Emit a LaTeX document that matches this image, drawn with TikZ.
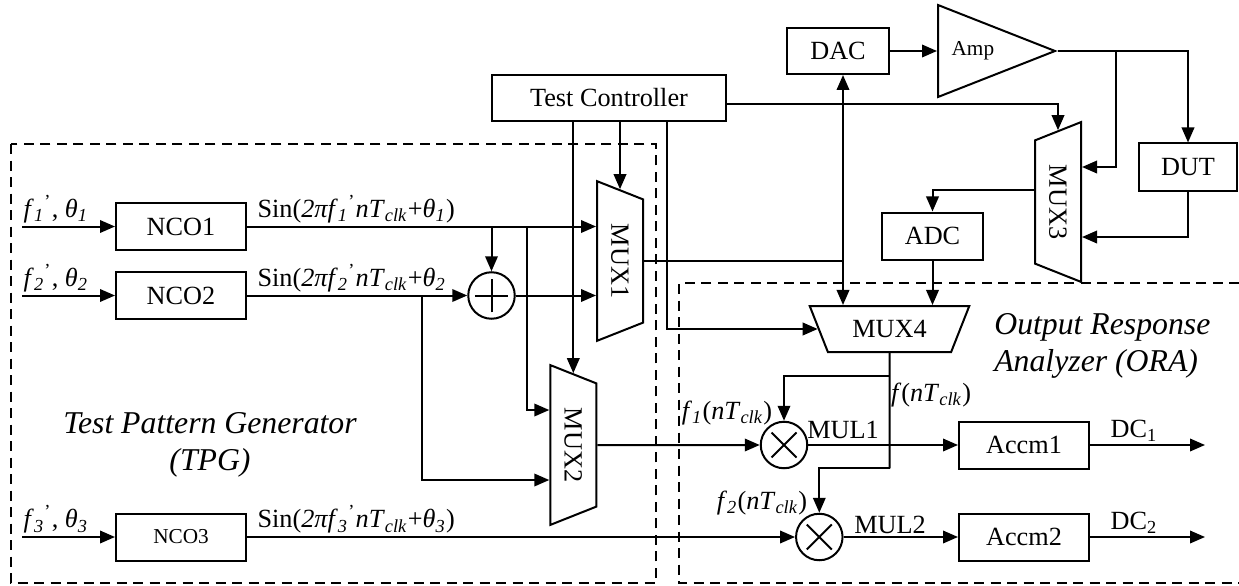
\documentclass[tikz,border=0pt]{standalone}
\usepackage{fontspec}
\setmainfont{Liberation Serif}
\usetikzlibrary{shapes.geometric,arrows.meta,calc}
\newcommand{\lo}[1]{\textsubscript{\textit{#1}}}
\newcommand{\losup}[2]{\textsubscript{\textit{#1}}\textsuperscript{#2}}

\begin{document}
\begin{tikzpicture}[x=0.4pt,y=-0.4pt,line width=0.8pt,
  font=\fontsize{10.5}{12.6}\selectfont,
  >={Triangle[length=6pt,width=5pt]},
  blk/.style={draw,minimum width=52pt,minimum height=18.8pt,inner sep=1pt},
  mux/.style={draw,trapezium,trapezium stretches=true,
    trapezium left angle=58,trapezium right angle=58,
    minimum width=64pt,minimum height=18.4pt,inner sep=0pt},
  sum/.style={draw,circle,minimum size=18.6pt,inner sep=0pt},
  addop/.style={sum,path picture={
    \draw ([xshift=-6.7pt]path picture bounding box.center) -- ([xshift=6.7pt]path picture bounding box.center)
          ([yshift=-6.7pt]path picture bounding box.center) -- ([yshift=6.7pt]path picture bounding box.center);}},
  mulop/.style={sum,path picture={
    \draw ([shift={(-5pt,-5pt)}]path picture bounding box.center) -- ([shift={(5pt,5pt)}]path picture bounding box.center)
          ([shift={(-5pt,5pt)}]path picture bounding box.center) -- ([shift={(5pt,-5pt)}]path picture bounding box.center);}},
  zone/.style={dash pattern=on 4pt off 2.6pt},
  sig/.style={inner sep=1pt},
  area/.style={font=\fontsize{12.7}{14.6}\selectfont\itshape}]
  \useasboundingbox (0,0) rectangle (1239,586);

  % --- Zones ---
  \draw[zone] (11,144) rectangle (656,583);
  \draw[zone] (1239,283) -- (679,283) -- (679,583) -- (1239,583);
  \node[area,align=center] (tpg) at (210,445) {Test Pattern Generator\\(TPG)};
  \node[area,align=left,anchor=west] (ora) at (985,346) {Output Response\\Analyzer (ORA)};

  % --- Blocks ---
  \node[blk] (nco1) at (181,226.5) {NCO1};
  \node[blk] (nco2) at (181,295.5) {NCO2};
  \node[blk,font=\fontsize{8.5}{10}\selectfont] (nco3) at (181,537) {NCO3};
  \node[blk,minimum width=93.6pt,minimum height=18.4pt] (tc) at (609,98) {Test Controller};
  \node[blk,minimum width=40.8pt,minimum height=18.4pt] (dac) at (838,51) {DAC};
  \node[blk,minimum width=40.4pt] (adc) at (932.5,236) {ADC};
  \node[blk,minimum width=39.2pt] (dut) at (1188,167) {DUT};
  \node[blk] (accm1) at (1024,445) {Accm1};
  \node[blk] (accm2) at (1024,537) {Accm2};
  \node[draw,isosceles triangle,isosceles triangle stretches,minimum width=36.8pt,
    minimum height=46.8pt,inner sep=0pt,anchor=west,font=\fontsize{8.5}{10}\selectfont] (amp) at (937,51) {Amp};

  % --- Multiplexers ---
  \node[mux,rotate=-90] (mux1) at (620,261) {MUX1};
  \node[mux,rotate=-90] (mux2) at (573.3,445) {MUX2};
  \node[mux,rotate=-90,shape border rotate=180] (mux3) at (1058,202) {MUX3};
  \node[mux,shape border rotate=180] (mux4) at (889.5,329) {MUX4};

  % --- Operators ---
  \node[addop] (add) at (491.5,295.5) {};
  \node[mulop] (mul1) at (784,445) {};
  \node[mulop] (mul2) at (819.3,537) {};
  \node (mul1l) at (843,430) {MUL1};
  \node (mul2l) at (890,525) {MUL2};

  % --- Signal labels ---
  \foreach \i/\y in {1/226.5,2/295.5,3/537} {
    \coordinate (in\i) at (22,\y);
    \node[sig,anchor=south] (f\i) at (56,\y) {\textit{f}\losup{\i}{'}, \textit{θ}\lo{\i}};
  }
  \node[sig,anchor=south west] (s1) at (254,226.5) {Sin(\textit{2πf}\losup{1}{'}\textit{nT}\lo{clk}+\textit{θ}\lo{1})};
  \node[sig,anchor=south west] (s2) at (254,295.5) {Sin(\textit{2πf}\losup{2}{'}\textit{nT}\lo{clk}+\textit{θ}\lo{2}};
  \node[sig,anchor=south west] (s3) at (254,537) {Sin(\textit{2πf}\losup{3}{'}\textit{nT}\lo{clk}+\textit{θ}\lo{3})};
  \node (fn) at (931,395) {\textit{f}(\textit{nT}\lo{clk})};
  \node (fn1) at (727,413) {\textit{f}\lo{1}(\textit{nT}\lo{clk})};
  \node (fn2) at (762,503) {\textit{f}\lo{2}(\textit{nT}\lo{clk})};
  \node[sig,anchor=south] (dc1) at (1134,445) {DC\textsubscript{1}};
  \node[sig,anchor=south] (dc2) at (1134,537) {DC\textsubscript{2}};

  % --- Pattern generator wiring ---
  \foreach \i in {1,2,3} \draw[->] (in\i) -- (nco\i.west);
  \coordinate (j1) at (527,226.5);
  \coordinate (j2) at (421.7,295.5);
  \draw[->] (nco1.east) -- (mux1.south |- nco1.east);
  \draw[->] (add.north |- nco1.east) -- (add.north);
  \draw[->] (j1) |- ($(mux2.south)+(0,-35)$);
  \draw[->] (nco2.east) -- (add.west);
  \draw[->] (j2) |- ($(mux2.south)+(0,35)$);
  \draw[->] (add.east) -- (mux1.south |- add.east);
  \draw[->] (nco3.east) -- (mul2.west);

  % --- Controller wiring ---
  \draw[->] (tc.south -| mux1.west) -- (mux1.west);
  \draw[->] (tc.south -| mux2.west) -- (mux2.west);
  \draw[->] ([xshift=23.2pt]tc.south) |- (mux4.west);
  \draw[->] ([yshift=-2.4pt]tc.east) -| (mux3.west);

  % --- Analog loop ---
  \coordinate (dacx) at ([xshift=2pt]dac.south);
  \coordinate (j3) at (1116,51);
  \draw[<->] (dacx) -- (dacx |- mux4.north);
  \draw (mux1.north) -- (mux1.north -| dacx);
  \draw[->] (dac.east) -- (amp.west);
  \draw[->] (amp.east) -| (dut.north);
  \draw[->] (j3) |- ($(mux3.north)+(0,-35)$);
  \draw[->] (dut.south) |- ($(mux3.north)+(0,35)$);
  \draw[->] ($(mux3.south)+(0,-12)$) -| (adc.north);
  \draw[->] (adc.south) -- (adc.south |- mux4.north);

  % --- Response analyzer wiring ---
  \coordinate (j4) at (889.5,375.7);
  \coordinate (j5) at (889.5,468.3);
  \coordinate (o1) at (1205,445);
  \coordinate (o2) at (1205,537);
  \draw (mux4.south) -- (j5);
  \draw[->] (j4) -| (mul1.north);
  \draw[->] (j5) -| (mul2.north);
  \draw[->] (mux2.north) -- (mul1.west);
  \draw[->] (mul1.east) -- (accm1.west);
  \draw[->] (mul2.east) -- (accm2.west);
  \draw[->] (accm1.east) -- (o1);
  \draw[->] (accm2.east) -- (o2);
\end{tikzpicture}
\end{document}
